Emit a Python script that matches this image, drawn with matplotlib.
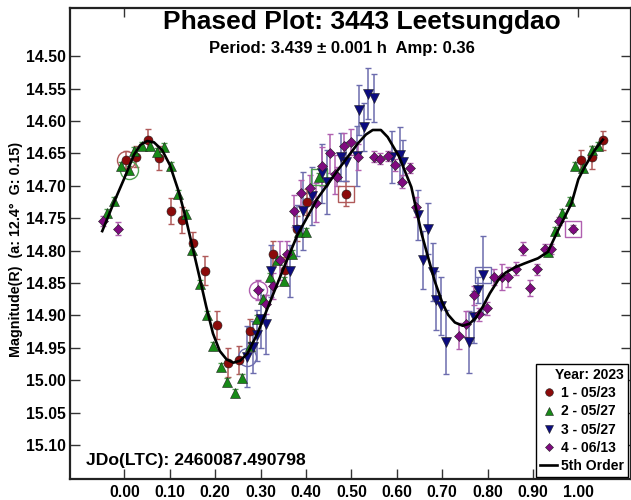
import matplotlib
matplotlib.use("Agg")
from matplotlib import pyplot as plt
from matplotlib.lines import Line2D

plt.rcParams['font.family'] = ['Liberation Sans', 'DejaVu Sans']
plt.rcParams['font.weight'] = 'bold'

# session 1 - 05/23 (red circles)
s1_phase = [0.003, 0.026, 0.052, 0.077, 0.102, 0.127, 0.152, 0.177, 0.203, 0.228,
            0.253, 0.277, 0.328, 0.353, 0.381, 0.402, 0.488, 1.005, 1.030, 1.054]
s1_mag = [14.660, 14.655, 14.629, 14.657, 14.739, 14.753, 14.789, 14.831, 14.915, 14.973,
          14.969, 14.924, 14.806, 14.830, 14.766, 14.725, 14.712, 14.660, 14.656, 14.630]
s1_err = [0.013, 0.016, 0.016, 0.018, 0.020, 0.020, 0.018, 0.022, 0.022, 0.022,
          0.022, 0.018, 0.020, 0.020, 0.020, 0.020, 0.020, 0.015, 0.018, 0.015]

# session 2 - 05/27 (green triangles)
s2_phase = [-0.038, -0.022, -0.007, 0.010, 0.022, 0.039, 0.056, 0.072, 0.088, 0.102,
            0.118, 0.135, 0.149, 0.166, 0.181, 0.195, 0.212, 0.227, 0.243, 0.258,
            0.277, 0.291, 0.306, 0.321, 0.337, 0.352, 0.369, 0.385, 0.400, 0.429,
            0.934, 0.949, 0.965, 0.981, 0.993, 1.011, 1.029, 1.043]
s2_mag = [14.742, 14.723, 14.670, 14.676, 14.646, 14.638, 14.639, 14.648, 14.640, 14.670,
          14.713, 14.743, 14.799, 14.851, 14.900, 14.947, 14.979, 15.003, 15.020, 14.997,
          14.947, 14.905, 14.874, 14.841, 14.814, 14.847, 14.805, 14.771, 14.771, 14.686,
          14.803, 14.770, 14.742, 14.723, 14.670, 14.673, 14.645, 14.639]
s2_err = [0.006] * len(s2_phase)

# session 3 - 05/27 (blue triangles)
s3_phase = [0.271, 0.284, 0.291, 0.300, 0.312, 0.322, 0.365, 0.381, 0.394, 0.414,
            0.436, 0.447, 0.477, 0.488, 0.512, 0.517, 0.527, 0.537, 0.549, 0.589,
            0.606, 0.613, 0.646, 0.657, 0.668, 0.679, 0.687, 0.698, 0.709, 0.758,
            0.770, 0.779, 0.790]
s3_mag = [14.964, 14.949, 14.931, 14.905, 14.914, 14.831, 14.832, 14.769, 14.739, 14.716,
          14.681, 14.694, 14.656, 14.663, 14.654, 14.583, 14.609, 14.558, 14.564, 14.656,
          14.653, 14.663, 14.745, 14.815, 14.766, 14.833, 14.877, 14.886, 14.941, 14.941,
          14.902, 14.861, 14.838]
s3_err = [0.047, 0.040, 0.040, 0.045, 0.045, 0.040, 0.040, 0.040, 0.060, 0.045,
          0.045, 0.049, 0.037, 0.030, 0.046, 0.039, 0.037, 0.039, 0.037, 0.040,
          0.044, 0.033, 0.039, 0.045, 0.040, 0.045, 0.045, 0.045, 0.049, 0.048,
          0.040, 0.020, 0.060]

# session 4 - 06/13 (purple diamonds)
s4_phase = [-0.047, -0.015, 0.295, 0.312, 0.327, 0.343, 0.359, 0.374, 0.390, 0.408,
            0.422, 0.436, 0.453, 0.464, 0.468, 0.484, 0.500, 0.515, 0.549, 0.564,
            0.580, 0.595, 0.611, 0.628, 0.642, 0.736, 0.753, 0.770, 0.782, 0.799,
            0.815, 0.832, 0.846, 0.863, 0.878, 0.894, 0.909, 0.926, 0.940, 0.957,
            0.988]
s4_mag = [14.754, 14.766, 14.861, 14.883, 14.855, 14.815, 14.806, 14.739, 14.711, 14.704,
          14.726, 14.670, 14.650, 14.682, 14.686, 14.639, 14.632, 14.655, 14.655, 14.658,
          14.654, 14.668, 14.694, 14.673, 14.733, 14.932, 14.913, 14.869, 14.898, 14.889,
          14.841, 14.841, 14.841, 14.828, 14.797, 14.858, 14.829, 14.798, 14.798, 14.754,
          14.766]
s4_err = [0.008, 0.010, 0.015, 0.015, 0.020, 0.030, 0.020, 0.025, 0.020, 0.020,
          0.030, 0.030, 0.030, 0.030, 0.015, 0.020, 0.020, 0.020, 0.008, 0.008,
          0.008, 0.010, 0.010, 0.008, 0.015, 0.020, 0.020, 0.015, 0.010, 0.010,
          0.012, 0.020, 0.015, 0.010, 0.010, 0.012, 0.008, 0.008, 0.008, 0.006,
          0.006]

# 5th order fit
fit_phase = [-0.049, -0.024, 0.0, 0.021, 0.035, 0.05, 0.065, 0.083, 0.10, 0.12,
             0.135, 0.15, 0.165, 0.18, 0.195, 0.21, 0.225, 0.24, 0.255, 0.271,
             0.293, 0.322, 0.352, 0.381, 0.425, 0.47, 0.514, 0.532, 0.547, 0.565,
             0.58, 0.605, 0.632, 0.655, 0.683, 0.70, 0.713, 0.728, 0.745, 0.76,
             0.775, 0.79, 0.805, 0.823, 0.84, 0.86, 0.881, 0.911, 0.933, 0.955,
             0.985, 1.0, 1.014, 1.036, 1.054]
fit_mag = [14.770, 14.727, 14.688, 14.652, 14.637, 14.631, 14.633, 14.645, 14.668, 14.710,
           14.750, 14.795, 14.840, 14.886, 14.928, 14.955, 14.968, 14.973, 14.970, 14.959,
           14.928, 14.877, 14.825, 14.776, 14.720, 14.676, 14.635, 14.621, 14.614, 14.614,
           14.625, 14.655, 14.702, 14.775, 14.846, 14.880, 14.899, 14.911, 14.916, 14.913,
           14.903, 14.886, 14.866, 14.846, 14.834, 14.826, 14.820, 14.812, 14.802, 14.769,
           14.727, 14.690, 14.671, 14.645, 14.629]

# first (circle) and last (square) point of each session
first_idx = [0, 3, 0, 2]
last_idx = [16, 29, 32, 40]

labels = ['1 - 05/23', '2 - 05/27', '3 - 05/27', '4 - 06/13']
markers = ['o', '^', 'v', 'D']
msizes = [6.5, 7, 7, 5]
face_colors = ['#8b0a0a', '#178a17', '#0c0c80', '#800a80']
err_colors = ['#b05a5a', '#4fa04f', '#6c6cae', '#b060b0']

xticks = [0.0, 0.1, 0.2, 0.3, 0.4, 0.5, 0.6, 0.7, 0.8, 0.9, 1.0]
yticks = [14.50, 14.55, 14.60, 14.65, 14.70, 14.75, 14.80, 14.85, 14.90, 14.95,
          15.00, 15.05, 15.10]

fig = plt.figure(figsize=(6.31, 5.0), dpi=100)
ax = fig.add_axes([70 / 631, 21 / 500, 561 / 631, 471.5 / 500])

series = [(s1_phase, s1_mag, s1_err), (s2_phase, s2_mag, s2_err),
          (s3_phase, s3_mag, s3_err), (s4_phase, s4_mag, s4_err)]

for i, (ph, mg, er) in enumerate(series):
    ax.errorbar(ph, mg, yerr=er, fmt='none', ecolor=err_colors[i], elinewidth=1.1,
                capsize=2.5, capthick=1.0, zorder=2)
    ax.plot(ph, mg, linestyle='none', marker=markers[i], markersize=msizes[i],
            markerfacecolor=face_colors[i], markeredgecolor='#202020',
            markeredgewidth=0.4, zorder=4)
    f = first_idx[i]
    l = last_idx[i]
    ax.plot(ph[f], mg[f], linestyle='none', marker='o', markersize=13,
            markerfacecolor='none', markeredgecolor=err_colors[i],
            markeredgewidth=1.0, zorder=3)
    ax.plot(ph[l], mg[l], linestyle='none', marker='s', markersize=12,
            markerfacecolor='none', markeredgecolor=err_colors[i],
            markeredgewidth=1.0, zorder=3)

ax.plot(fit_phase, fit_mag, color='black', linewidth=1.9, zorder=5,
        solid_joinstyle='round')

ax.set_xlim(-0.12, 1.116)
ax.set_ylim(15.1525, 14.425)

ax.set_xticks(xticks)
ax.set_xticklabels(['%.2f' % v for v in xticks])
ax.set_yticks(yticks)
ax.set_yticklabels(['%.2f' % v for v in yticks])
ax.tick_params(axis='both', direction='in', length=7, width=1, color='#333333',
               labelsize=11.3, pad=3)
ax.tick_params(axis='y', right=True)
ax.tick_params(axis='x', pad=4)

# top ticks only at phase 0 and 1
sec = ax.secondary_xaxis('top')
sec.set_xticks([0.0, 1.0])
sec.tick_params(direction='in', length=7, width=1, color='#333333', labeltop=False)
sec.spines['top'].set_visible(False)

for sp in ax.spines.values():
    sp.set_linewidth(1.6)
    sp.set_color('#222222')

ax.text(0.52, 0.969, 'Phased Plot: 3443 Leetsungdao', transform=ax.transAxes,
        ha='center', va='center', fontsize=19, fontweight='heavy')
ax.text(0.484, 0.913, 'Period: 3.439 \u00b1 0.001 h  Amp: 0.36', transform=ax.transAxes,
        ha='center', va='center', fontsize=12, fontweight='bold')
ax.text(0.0285, 0.040, 'JDo(LTC): 2460087.490798', transform=ax.transAxes,
        ha='left', va='center', fontsize=12.6, fontweight='bold')

fig.text(0.025, 0.502, 'Magnitude(R)  (a: 12.4\u00b0  G: 0.15)', rotation=90,
         ha='center', va='center', fontsize=10.3, fontweight='bold')

handles = []
for i in range(4):
    handles.append(Line2D([], [], linestyle='none', marker=markers[i],
                          markersize=msizes[i] - 1.0, markerfacecolor=face_colors[i],
                          markeredgecolor='#202020', markeredgewidth=0.4))
handles.append(Line2D([], [], color='black', linewidth=1.9))
leg = ax.legend(handles, labels + ['5th Order'], title='Year: 2023', loc='lower right',
                bbox_to_anchor=(0.995, 0.004), borderaxespad=0, fontsize=10,
                title_fontsize=10, handlelength=1.2, handletextpad=0.3,
                labelspacing=0.3, borderpad=0.3, fancybox=False, framealpha=1,
                edgecolor='black')
leg.get_title().set_fontweight('bold')
leg._legend_box.align = 'right'
leg.get_frame().set_linewidth(1.0)

fig.savefig('out.png', dpi=100)
